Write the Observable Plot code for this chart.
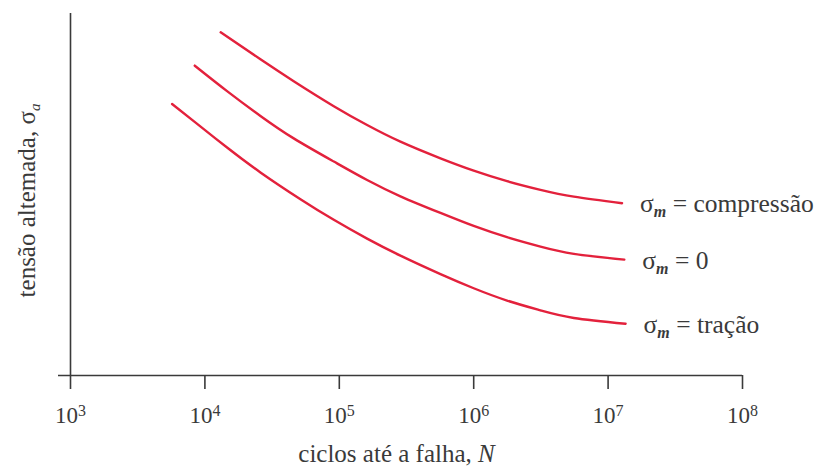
<!DOCTYPE html>
<html><head><meta charset="utf-8">
<script src="https://cdn.jsdelivr.net/npm/d3@7"></script>
<script src="https://cdn.jsdelivr.net/npm/@observablehq/plot@0.6"></script>
<style>body{margin:0;background:#fff}</style>
</head><body><div id="chart"></div>
<script>
// x ticks (cycles to failure, log scale)
const xTicks = [1e3, 1e4, 1e5, 1e6, 1e7, 1e8];

// series names (σm = ...)
const seriesNames = ["compressão", "0", "tração"];

// σm = compressão
const cyclesCompression = [1.31e4, 2.59e4, 4.58e4, 9.1e4, 1.61e5, 2.85e5, 5.66e5, 1.0e6, 1.77e6, 3.14e6, 5.56e6, 1.27e7];
const stressCompression = [94.8, 87.35, 81.3, 74.4, 69.2, 64.6, 60.0, 56.6, 53.7, 51.3, 49.4, 47.6];

// σm = 0
const cyclesZero = [8.4e3, 1.47e4, 2.59e4, 4.58e4, 9.1e4, 1.61e5, 2.85e5, 5.66e5, 1.0e6, 1.77e6, 3.14e6, 5.56e6, 1.32e7];
const stressZero = [85.6, 78.5, 71.7, 65.5, 59.1, 54.0, 49.5, 44.9, 41.3, 38.2, 35.6, 33.6, 32.0];

// σm = tração
const cyclesTension = [5.7e3, 8.3e3, 1.47e4, 2.59e4, 5.14e4, 9.1e4, 1.61e5, 2.85e5, 5.66e5, 1.0e6, 1.77e6, 3.14e6, 5.56e6, 1.35e7];
const stressTension = [75.0, 70.2, 62.9, 56.1, 48.7, 43.0, 37.8, 33.1, 28.0, 24.1, 20.7, 18.0, 15.9, 14.3];

// texts
const yLabelText = "tensão altemada, σ";
const yLabelSub = "a";
const xLabelText = "ciclos até a falha, ";
const xLabelVar = "N";
const seriesSymbol = "σ";
const seriesSub = "m";

const data = [];
[[cyclesCompression, stressCompression], [cyclesZero, stressZero], [cyclesTension, stressTension]]
  .forEach(([cs, ss], i) => cs.forEach((c, j) => data.push({series: seriesNames[i], cycles: c, stress: ss[j]})));

const ink = "#3a3a3a";
const red = "#e3213c";
const serif = "'Liberation Serif', 'Times New Roman', Times, 'DejaVu Serif', serif";

const plot = Plot.plot({
  width: 817, height: 468,
  marginLeft: 70, marginRight: 75, marginTop: 13, marginBottom: 93,
  style: {fontFamily: serif, color: ink, background: "#fff", overflow: "visible"},
  x: {type: "log", domain: [1e3, 1e8]},
  y: {domain: [0, 100], axis: null},
  marks: [
    Plot.ruleX([1e3], {stroke: ink, strokeWidth: 1.6}),
    Plot.ruleY([0], {stroke: ink, strokeWidth: 1.6, insetLeft: -12}),
    Plot.axisX({ticks: xTicks, tickSize: 14, tickPadding: 17, fontSize: 23, label: null,
      stroke: ink, strokeWidth: 1.6, fill: ink,
      tickFormat: d => String(Math.round(Math.log10(d)))}),
    Plot.line(data, {x: "cycles", y: "stress", z: "series", stroke: red, strokeWidth: 2.4, curve: "natural"}),
    Plot.text(data, Plot.selectLast({x: "cycles", y: "stress", z: "series", text: "series",
      dx: 18, dy: 1, textAnchor: "start", fontSize: 25.5, fill: ink})),
    Plot.text([yLabelText], {frameAnchor: "left", rotate: -90, dx: -44, dy: 6, textAnchor: "middle",
      fontSize: 25, fill: ink}),
    Plot.text([xLabelText], {frameAnchor: "bottom", dx: -10, dy: 86, textAnchor: "middle",
      fontSize: 25, fill: ink})
  ]
});

const svg = d3.select(plot);
svg.attr("font-family", serif).style("font-family", serif);
svg.selectAll('g[aria-label="x-axis tick label"] text').each(function() {
  const e = this.textContent;
  const t = d3.select(this);
  t.text("10");
  t.append("tspan").attr("dy", -7).attr("font-size", 16).text(e);
});
svg.selectAll("text").each(function() {
  const t = d3.select(this);
  const s = this.textContent;
  if (seriesNames.includes(s)) {
    t.text(seriesSymbol);
    t.append("tspan").attr("dy", 5).attr("font-size", 16).attr("font-style", "italic").attr("font-weight", "bold").text(seriesSub);
    t.append("tspan").attr("dy", -5).text(" = " + s);
  } else if (s === yLabelText) {
    t.append("tspan").attr("dy", 5).attr("font-size", 15).attr("font-style", "italic").text(yLabelSub);
  } else if (s.trim() === xLabelText.trim()) {
    t.text(xLabelText);
    t.append("tspan").attr("font-style", "italic").text(xLabelVar);
  }
  t.attr("font-family", serif).style("font-family", serif);
});
svg.selectAll("g").attr("font-family", serif);

document.getElementById("chart").appendChild(plot);
</script>
</body></html>
